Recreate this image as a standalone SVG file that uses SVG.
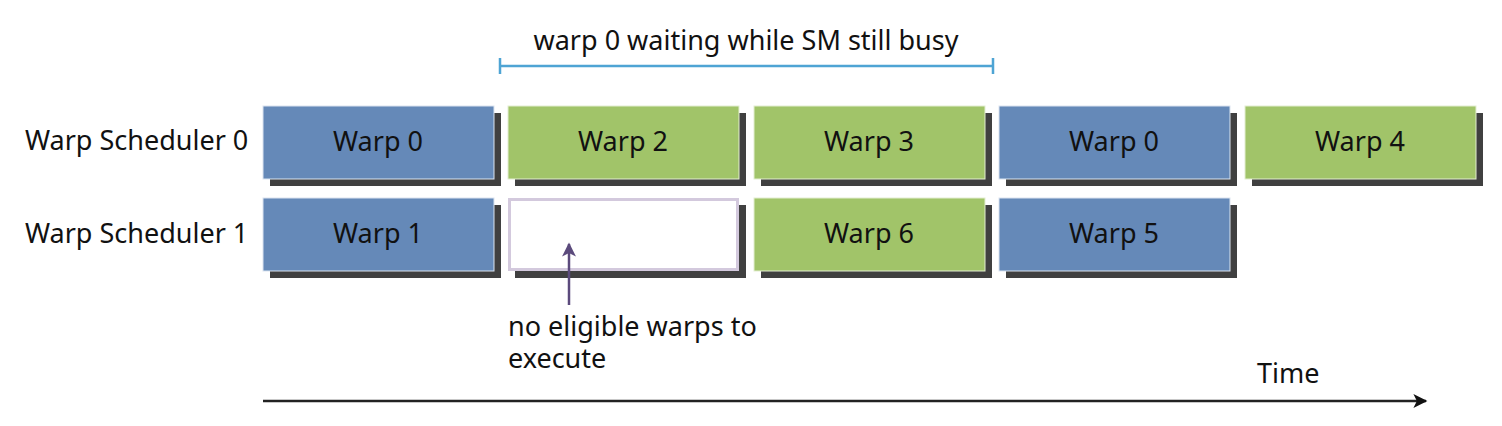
<svg xmlns="http://www.w3.org/2000/svg" width="1502" height="426" viewBox="0 0 1502 426">
<defs>
<style>
text{font-family:"Noto Sans","Open Sans","Liberation Sans",sans-serif;fill:#111;font-size:27px;}
.w{text-anchor:middle;}
.sh{fill:#404040;}
.blue{fill:#6589b8;stroke:#dbe4f0;stroke-width:1;}
.green{fill:#a1c469;stroke:#e3eed2;stroke-width:1;}
.empty{fill:#fff;stroke:#d3c9dd;stroke-width:3;}
</style>
<marker id="ah" viewBox="0 0 10 10" refX="9" refY="5" markerWidth="16" markerHeight="14" markerUnits="userSpaceOnUse" orient="auto">
<path d="M0,0 L10,5 L0,10 L2.5,5 z" fill="#111"/>
</marker>
<marker id="ahp" viewBox="0 0 10 10" refX="9" refY="5" markerWidth="16" markerHeight="14" markerUnits="userSpaceOnUse" orient="auto">
<path d="M0,0 L10,5 L0,10 L2.5,5 z" fill="#5b4a7c"/>
</marker>
</defs>
<text x="25" y="150">Warp Scheduler 0</text>
<text x="25" y="243">Warp Scheduler 1</text>
<g id="bracket">
<text x="746" y="50" class="w">warp 0 waiting while SM still busy</text>
<path d="M500,66 H993 M500,58 V74 M993,58 V74" stroke="#4ea4d4" stroke-width="2.5" fill="none"/>
</g>
<g id="s0w0"><rect class="sh" x="270" y="113" width="231" height="73"/><rect class="blue" x="263" y="106" width="231" height="73"/><text class="w" x="378" y="151">Warp 0</text></g>
<g id="s0w2"><rect class="sh" x="515" y="113" width="231" height="73"/><rect class="green" x="508" y="106" width="231" height="73"/><text class="w" x="623" y="151">Warp 2</text></g>
<g id="s0w3"><rect class="sh" x="761" y="113" width="231" height="73"/><rect class="green" x="754" y="106" width="231" height="73"/><text class="w" x="869" y="151">Warp 3</text></g>
<g id="s0w0b"><rect class="sh" x="1006" y="113" width="231" height="73"/><rect class="blue" x="999" y="106" width="231" height="73"/><text class="w" x="1114" y="151">Warp 0</text></g>
<g id="s0w4"><rect class="sh" x="1252" y="113" width="231" height="73"/><rect class="green" x="1245" y="106" width="231" height="73"/><text class="w" x="1360" y="151">Warp 4</text></g>
<g id="s1w1"><rect class="sh" x="270" y="205" width="231" height="73"/><rect class="blue" x="263" y="198" width="231" height="73"/><text class="w" x="378" y="243">Warp 1</text></g>
<g id="s1empty"><rect class="sh" x="515" y="205" width="231" height="73"/><rect class="empty" x="509.5" y="199.5" width="228" height="70"/></g>
<g id="s1w6"><rect class="sh" x="761" y="205" width="231" height="73"/><rect class="green" x="754" y="198" width="231" height="73"/><text class="w" x="869" y="243">Warp 6</text></g>
<g id="s1w5"><rect class="sh" x="1006" y="205" width="231" height="73"/><rect class="blue" x="999" y="198" width="231" height="73"/><text class="w" x="1114" y="243">Warp 5</text></g>
<g id="note">
<text x="508" y="336">no eligible warps to<tspan x="508" dy="32">execute</tspan></text>
</g>
<g id="connectors">
<line x1="569" y1="305" x2="569" y2="244" stroke="#5b4a7c" stroke-width="2.5" marker-end="url(#ahp)"/>
<line x1="263" y1="401" x2="1426" y2="401" stroke="#222" stroke-width="2.5" marker-end="url(#ah)"/>
</g>
<text x="1257" y="383">Time</text>
</svg>
